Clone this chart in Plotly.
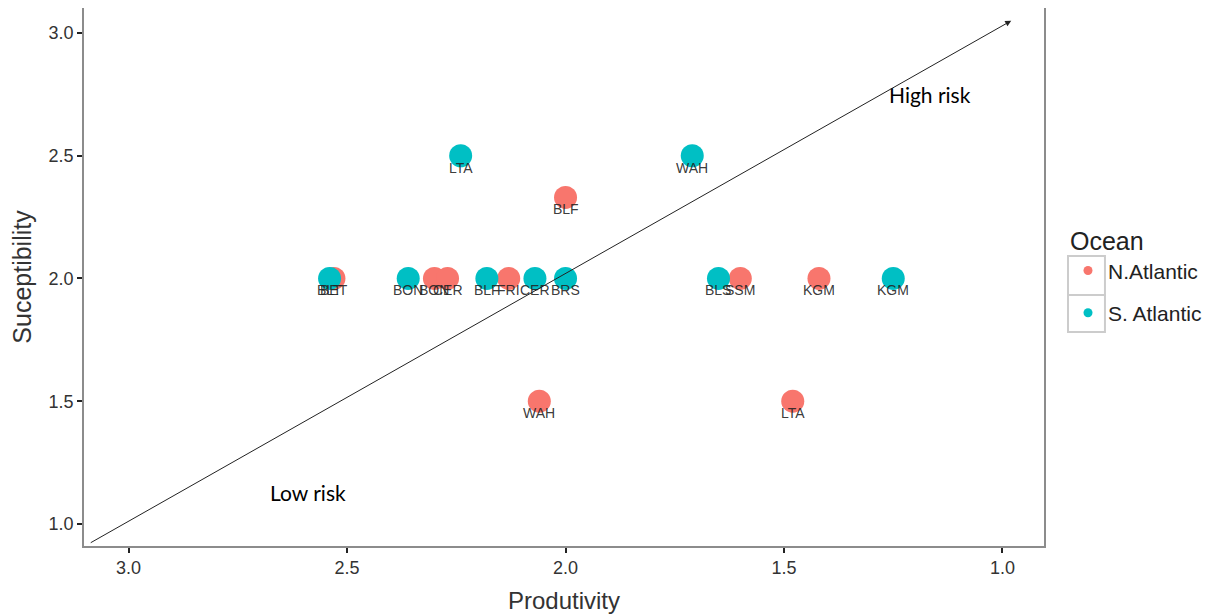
import plotly.graph_objects as go

# ---- data ----
na_species = ["BLF", "WAH", "LTA", "KGM", "SSM", "BET", "BON", "CER", "FRI"]
na_prod = [2.00, 2.06, 1.48, 1.42, 1.60, 2.53, 2.30, 2.27, 2.13]
na_susc = [2.33, 1.50, 1.50, 2.00, 2.00, 2.00, 2.00, 2.00, 2.00]

sa_species = ["LTA", "WAH", "BLT", "BON", "BLF", "CER", "BRS", "BLS", "KGM"]
sa_prod = [2.24, 1.71, 2.54, 2.36, 2.18, 2.07, 2.00, 1.65, 1.25]
sa_susc = [2.50, 2.50, 2.00, 2.00, 2.00, 2.00, 2.00, 2.00, 2.00]

x_ticks = [3.0, 2.5, 2.0, 1.5, 1.0]
y_ticks = [1.0, 1.5, 2.0, 2.5, 3.0]
x_range = [3.102, 0.905]
y_range = [0.91, 3.102]

arrow_start = (3.09, 0.92)
arrow_end = (0.98, 3.05)
risk_labels = [("High risk", 1.167, 2.75), ("Low risk", 2.59, 1.13)]

RED = "#F8766D"
TEAL = "#00BFC4"
FONT = "Liberation Sans, Arial"

fig = go.Figure()
fig.add_trace(go.Scatter(x=na_prod, y=na_susc, mode="markers",
                         marker=dict(color=RED, size=23, line=dict(width=0)),
                         showlegend=False, hoverinfo="skip"))
fig.add_trace(go.Scatter(x=sa_prod, y=sa_susc, mode="markers",
                         marker=dict(color=TEAL, size=23, line=dict(width=0)),
                         showlegend=False, hoverinfo="skip"))
# legend entries
fig.add_trace(go.Scatter(x=[None], y=[None], mode="markers", name="N.Atlantic",
                         legendgroup="a", marker=dict(color=RED, size=9)))
fig.add_trace(go.Scatter(x=[None], y=[None], mode="markers", name="S. Atlantic",
                         legendgroup="b", marker=dict(color=TEAL, size=9)))

annotations = []
for names, xs, ys in [(na_species, na_prod, na_susc), (sa_species, sa_prod, sa_susc)]:
    for n, xv, yv in zip(names, xs, ys):
        annotations.append(dict(x=xv, y=yv, xref="x", yref="y", text=n, showarrow=False,
                                yshift=-12, font=dict(family=FONT, size=14,
                                                      color="rgba(35,35,35,0.9)")))
for t, xv, yv in risk_labels:
    annotations.append(dict(x=xv, y=yv, xref="x", yref="y", text=t, showarrow=False,
                            font=dict(family="Lato", size=21, color="black")))
annotations.append(dict(x=arrow_end[0], y=arrow_end[1], xref="x", yref="y",
                        ax=arrow_start[0], ay=arrow_start[1], axref="x", ayref="y",
                        text="", showarrow=True, arrowhead=2, arrowsize=1.2,
                        arrowwidth=1, arrowcolor="#222222"))

# legend key boxes (decoration)
shapes = []
for y0, y1 in [(0.539, 0.4665), (0.4665, 0.3978)]:
    shapes.append(dict(type="rect", xref="paper", yref="paper", x0=1.025, x1=1.0635,
                       y0=y1, y1=y0, line=dict(color="#CCCCCC", width=2),
                       fillcolor="white", layer="below"))

axis_common = dict(showgrid=False, zeroline=False, showline=True, mirror=True,
                   linecolor="#8C8C8C", linewidth=1.5, ticks="outside", ticklen=5,
                   tickwidth=2, tickcolor="#222222", automargin=False,
                   tickfont=dict(family=FONT, size=18, color="#333333"))

fig.update_layout(
    width=1221, height=615,
    margin=dict(l=76, r=185, t=0, b=77),
    paper_bgcolor="white", plot_bgcolor="white",
    xaxis=dict(range=x_range, tickvals=x_ticks, ticktext=[f"{v:.1f}" for v in x_ticks],
               title=dict(text="Produtivity", font=dict(family=FONT, size=24, color="#333333")),
               **axis_common),
    yaxis=dict(range=y_range, tickvals=y_ticks, ticktext=[f"{v:.1f}" for v in y_ticks],
               title=dict(text="Suceptibility", font=dict(family=FONT, size=25, color="#333333")),
               **axis_common),
    legend=dict(x=1.025, y=0.61, xanchor="left", yanchor="top",
                title=dict(text="Ocean", font=dict(family=FONT, size=25, color="#222222")),
                font=dict(family=FONT, size=21, color="#222222"),
                tracegroupgap=12, bgcolor="rgba(0,0,0,0)"),
    annotations=annotations,
    shapes=shapes,
)

fig.write_html("out.html")
